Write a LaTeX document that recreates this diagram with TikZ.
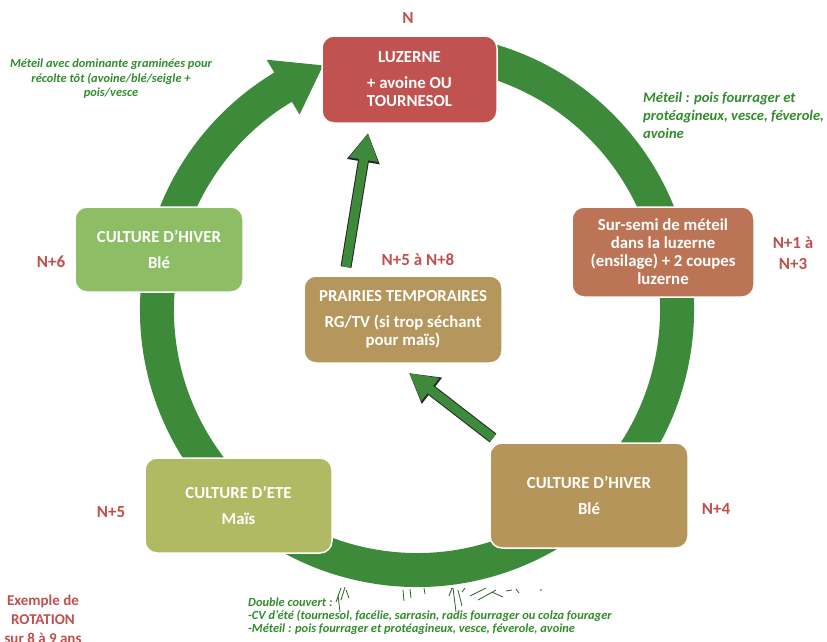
\documentclass[tikz,border=0pt]{standalone}
\usepackage{fontspec}
\setmainfont{Carlito}
\usetikzlibrary{arrows.meta,calc}
\definecolor{ringgreen}{RGB}{60,138,58}
\definecolor{txtgreen}{RGB}{50,140,46}
\definecolor{labred}{RGB}{192,80,77}
\definecolor{cLuz}{RGB}{192,82,80}
\definecolor{cSur}{RGB}{188,116,86}
\definecolor{cHivL}{RGB}{141,190,102}
\definecolor{cEte}{RGB}{176,186,98}
\definecolor{cHivR}{RGB}{181,149,90}
\definecolor{cPrai}{RGB}{181,150,92}
\begin{document}
\begin{tikzpicture}[x=1pt,y=-1pt,
  cropbox/.style={rounded corners=12pt, draw=white, line width=1.5pt, text=white,
    align=center, font=\fontsize{16.8}{18}\selectfont\bfseries, inner sep=0pt},
  redlab/.style={text=labred, font=\fontsize{17}{21}\selectfont\bfseries, align=center, inner sep=0pt},
  exlab/.style={text=labred, font=\fontsize{15}{19}\selectfont\bfseries, align=center, inner sep=0pt},
  notebig/.style={text=txtgreen, font=\fontsize{14.6}{18}\selectfont\bfseries\itshape, inner sep=0pt},
  notesmall/.style={text=txtgreen, font=\fontsize{12.4}{14.5}\selectfont\bfseries\itshape, inner sep=0pt},
  blockarrow/.style={line width=9pt, ringgreen, -{Triangle[length=27pt,width=27pt]},
    preaction={draw=black!85, line width=11pt, -{Triangle[length=29pt,width=31pt]}}},
  grass/.style={draw=ringgreen!70!black, line width=0.8pt}
]
\useasboundingbox (0,0) rectangle (827,641);
\clip (0,0) rectangle (827,641);
\fill[white] (0,0) rectangle (827,641);
\coordinate (ringc) at (417,310);
% ring with arrowhead
\draw[ringgreen, line width=34pt] (ringc) ++(-78:260) arc[start angle=-78, end angle=240, radius=260];
\fill[ringgreen] ($(ringc)+(-121:228)$) -- ($(ringc)+(-111:262)$) -- ($(ringc)+(-121:292)$) -- cycle;
% boxes
\node[cropbox, fill=cLuz, minimum width=175pt, minimum height=87pt] (luz) at (409.5,79.5) {LUZERNE\\[8pt]+ avoine OU\\TOURNESOL};
\node[cropbox, fill=cSur, minimum width=182pt, minimum height=90pt] (sur) at (663,252) {Sur-semi de méteil\\dans la luzerne\\(ensilage) + 2 coupes\\luzerne};
\node[cropbox, fill=cHivL, minimum width=168pt, minimum height=85pt] (hivl) at (159,249.5) {CULTURE D’HIVER\\[8pt]Blé};
\node[cropbox, fill=cEte, minimum width=187pt, minimum height=95pt] (ete) at (238.5,505.5) {CULTURE D’ETE\\[8pt]Maïs};
\node[cropbox, fill=cHivR, minimum width=198pt, minimum height=105pt] (hivr) at (589,495.5) {CULTURE D’HIVER\\[8pt]Blé};
\node[cropbox, fill=cPrai, minimum width=198pt, minimum height=87pt] (prai) at (403,319.5) {PRAIRIES TEMPORAIRES\\[8pt]RG/TV (si trop séchant\\pour maïs)};
% inner arrows
\coordinate (a1s) at (346,267);
\coordinate (a1e) at (368,133);
\coordinate (a2s) at (493,438);
\coordinate (a2e) at (409,373);
\draw[blockarrow] (a1s) -- (a1e);
\draw[blockarrow] (a2s) -- (a2e);
% red labels
\node[redlab] (lN) at (408,18) {N};
\node[redlab] (lN6) at (51,262) {N+6};
\node[redlab] (lN13) at (793,253.5) {N+1 à\\N+3};
\node[redlab] (lN58) at (418,260) {N+5 à N+8};
\node[redlab] (lN5) at (111,512) {N+5};
\node[redlab] (lN4) at (716,509) {N+4};
\node[exlab] (lex) at (43,619) {Exemple de\\ROTATION\\sur 8 à 9 ans};
% green notes
\node[notesmall, align=center] (n1) at (111,79) {Méteil avec dominante graminées pour\\récolte tôt (avoine/blé/seigle +\\pois/vesce};
\node[notebig, align=left, anchor=west] (n2) at (643,115) {Méteil : pois fourrager et\\protéagineux, vesce, féverole,\\avoine};
\node[notesmall, align=left, anchor=west, font=\fontsize{12.4}{12.8}\selectfont\bfseries\itshape] (n3) at (248,616) {Double couvert :\\-CV d’été (tournesol, facélie, sarrasin, radis fourrager ou colza fourager\\-Méteil : pois fourrager et protéagineux, vesce, féverole, avoine};
% grass remnants
\draw[grass] (336,602) -- (341,588) (341,600) -- (345,587) (346,590) -- (349,598) (338,595) -- (340,612);
\draw[grass] (403,590) -- (404,601) (410,589) -- (411,598) (424,588) -- (425,594);
\draw[grass] (449,596) -- (452,588) (453,588) -- (456,612) (458,590) -- (462,606) (462,592) -- (465,588);
\draw[grass] (470,596) -- (486,588) (478,600) -- (496,590) (492,592) -- (503,597) (506,591) -- (512,590) (516,589) -- (519,593);
\fill[ringgreen!70!black] (541,590) circle (0.9);
\end{tikzpicture}
\end{document}
